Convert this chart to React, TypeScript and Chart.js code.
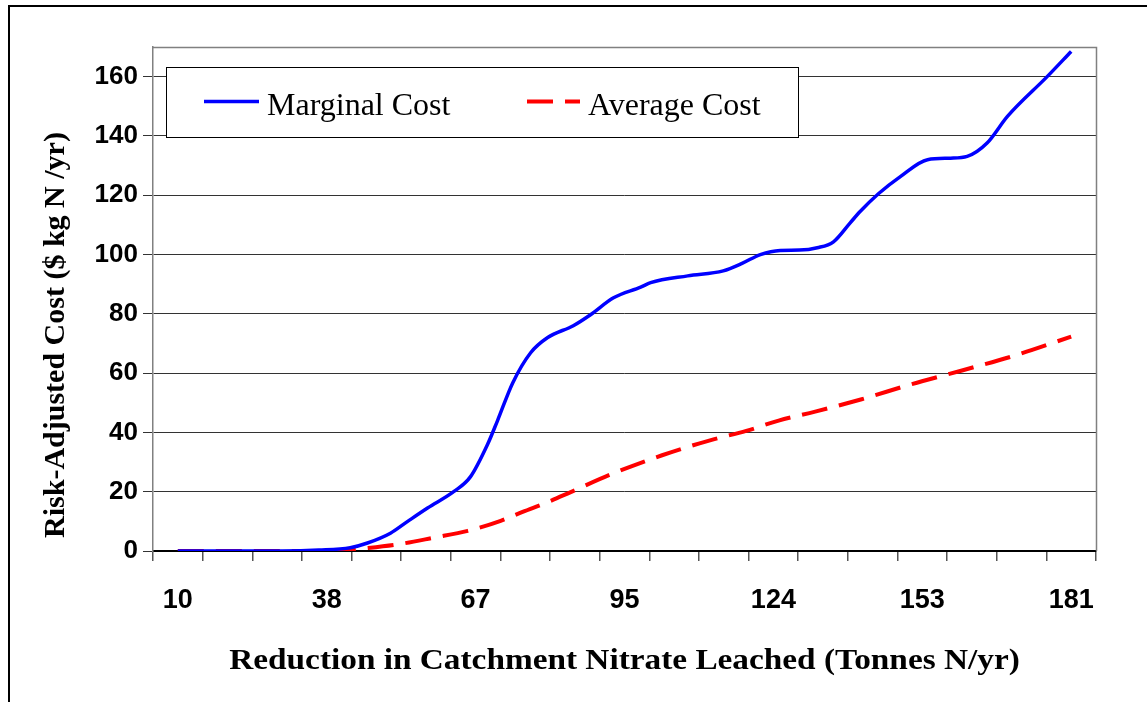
import React, { useEffect, useRef } from 'react';
import { Chart, registerables } from 'chart.js';

Chart.register(...registerables);

// ---- Data ----
const X_TICK_VALUES = [10, 19.5, 29, 38.5, 48, 57.5, 67, 76.5, 86, 95.5, 105, 114.5, 124, 133.5, 143, 152.5, 162, 171.5, 181];
const X_TICK_LABELS = ['10', '', '', '38', '', '', '67', '', '', '95', '', '', '124', '', '', '153', '', '', '181'];

const MARGINAL_X = [10, 20, 30, 37, 43, 46.3, 50.7, 54, 57.8, 62.8, 66, 69.3, 71.2, 74.1, 77.5, 80.8, 85.7, 89, 93.4, 98.6, 100.5, 107.6, 114.4, 118, 121.5, 125.3, 129, 132.4, 135.5, 138.7, 140.6, 144.1, 148.3, 153.5, 157.9, 161.1, 164.9, 168.8, 176.4, 181];
const MARGINAL_Y = [0, 0, 0, 0.3, 1.1, 2.7, 6, 10, 14.5, 20, 25, 36, 44, 56.7, 66.8, 72, 76, 79.7, 85.4, 89, 90.5, 92.8, 94.5, 97, 100, 101.4, 101.5, 102.3, 104.3, 110.7, 114.5, 120.5, 126.3, 132, 132.5, 133.1, 137.6, 146.6, 160, 168.5];

const AVERAGE_X = [10, 20, 30, 38, 42, 46.3, 52.7, 59, 65.5, 71.8, 76, 80.8, 85, 93.1, 102.7, 112.2, 118.8, 125, 132, 140.9, 150.5, 160.1, 169.6, 181];
const AVERAGE_Y = [0, 0, 0, 0, 0.3, 1, 2.4, 4.5, 6.8, 10.2, 13.2, 16.5, 19.7, 26, 32.3, 37.5, 40.5, 44, 47, 51.2, 56.3, 60.9, 65.6, 72.3];

const SERIES_LABELS = ['Marginal Cost', 'Average Cost'];
const X_TITLE = 'Reduction in Catchment Nitrate Leached (Tonnes N/yr)';
const Y_TITLE = 'Risk-Adjusted Cost ($ kg N /yr)';

const SANS = '"Liberation Sans", Arial, sans-serif';
const SERIF = '"Liberation Serif", "Times New Roman", serif';

const frameBorder = {
  id: 'frameBorder',
  beforeDatasetsDraw(chart: any) {
    const { ctx, chartArea } = chart;
    ctx.save();
    ctx.strokeStyle = '#808080';
    ctx.lineWidth = 1.5;
    ctx.beginPath();
    ctx.moveTo(chartArea.left, chartArea.top + 0.5);
    ctx.lineTo(chartArea.right + 0.5, chartArea.top + 0.5);
    ctx.lineTo(chartArea.right + 0.5, chartArea.bottom);
    ctx.stroke();
    ctx.restore();
  },
};

const axisTitles = {
  id: 'axisTitles',
  afterDraw(chart: any) {
    const { ctx, chartArea } = chart;
    ctx.save();
    ctx.fillStyle = '#000';
    ctx.font = `bold 30px ${SERIF}`;
    ctx.textAlign = 'center';
    ctx.textBaseline = 'middle';
    // x title (slightly widened like the reference)
    ctx.save();
    ctx.translate((chartArea.left + chartArea.right) / 2, chartArea.bottom + 110);
    ctx.scale(1.11, 1);
    ctx.fillText(X_TITLE, 0, 0);
    ctx.restore();
    // y title
    ctx.save();
    ctx.translate(56, chartArea.bottom - 216);
    ctx.rotate(-Math.PI / 2);
    ctx.fillText(Y_TITLE, 0, 0);
    ctx.restore();
    ctx.restore();
  },
};

const boxLegend = {
  id: 'boxLegend',
  afterDatasetsDraw(chart: any) {
    const { ctx, chartArea } = chart;
    const bx = chartArea.left + 13;
    const by = chartArea.top + 20;
    const bw = 632;
    const bh = 70;
    ctx.save();
    ctx.fillStyle = '#ffffff';
    ctx.fillRect(bx, by, bw, bh);
    ctx.strokeStyle = '#000000';
    ctx.lineWidth = 1;
    ctx.strokeRect(bx + 0.5, by + 0.5, bw, bh);
    const ds = chart.data.datasets;
    const cy = by + 34.5;
    const items = [
      { x0: bx + 38, x1: bx + 93, tx: bx + 101 },
      { x0: bx + 361, x1: bx + 414, tx: bx + 422 },
    ];
    ds.forEach((d: any, i: number) => {
      const it = items[i];
      ctx.beginPath();
      ctx.strokeStyle = d.borderColor;
      ctx.lineWidth = d.borderWidth;
      ctx.setLineDash(d.borderDash || []);
      ctx.moveTo(it.x0, cy);
      ctx.lineTo(it.x1, cy);
      ctx.stroke();
      ctx.setLineDash([]);
      ctx.fillStyle = '#000';
      ctx.font = `32px ${SERIF}`;
      ctx.textBaseline = 'alphabetic';
      ctx.textAlign = 'left';
      ctx.fillText(d.label, it.tx, by + 48);
    });
    ctx.restore();
  },
};

export default function App() {
  const canvasRef = useRef<HTMLCanvasElement | null>(null);

  useEffect(() => {
    if (!canvasRef.current) return;
    const chart = new Chart(canvasRef.current, {
      type: 'line',
      data: {
        datasets: [
          {
            label: SERIES_LABELS[0],
            data: MARGINAL_X.map((x, i) => ({ x, y: MARGINAL_Y[i] })),
            borderColor: '#0000ff',
            borderWidth: 3.5,
            pointRadius: 0,
            cubicInterpolationMode: 'monotone',
            fill: false,
          },
          {
            label: SERIES_LABELS[1],
            data: AVERAGE_X.map((x, i) => ({ x, y: AVERAGE_Y[i] })),
            borderColor: '#ff0000',
            borderWidth: 4,
            borderDash: [26, 12],
            pointRadius: 0,
            cubicInterpolationMode: 'monotone',
            fill: false,
          },
        ],
      },
      options: {
        animation: false,
        responsive: false,
        maintainAspectRatio: false,
        layout: { padding: { left: 0, right: 51, top: 47, bottom: 0 } },
        plugins: {
          legend: { display: false },
          tooltip: { enabled: false },
        },
        scales: {
          x: {
            type: 'linear',
            position: 'bottom',
            min: 5.25,
            max: 185.75,
            afterBuildTicks: (s: any) => {
              s.ticks = X_TICK_VALUES.map((v) => ({ value: v }));
            },
            afterFit: (s: any) => {
              s.height = 151;
            },
            grid: {
              offset: true,
              drawOnChartArea: false,
              drawTicks: true,
              tickLength: 10,
              color: '#555555',
              lineWidth: 1.5,
            },
            border: { display: true, color: '#000000', width: 2 },
            ticks: {
              autoSkip: false,
              maxRotation: 0,
              minRotation: 0,
              padding: 23,
              color: '#000000',
              font: { family: SANS, size: 27, weight: 'bold' },
              callback: (_v: any, i: number) => X_TICK_LABELS[i],
            },
            title: { display: false },
          },
          y: {
            type: 'linear',
            min: 0,
            max: 170,
            afterFit: (s: any) => {
              s.width = 153;
            },
            grid: {
              color: '#333333',
              lineWidth: 1,
              drawTicks: true,
              tickLength: 10,
            },
            border: { display: true, color: '#808080', width: 1.5 },
            ticks: {
              stepSize: 20,
              includeBounds: false,
              padding: 5,
              color: '#000000',
              font: { family: SANS, size: 26, weight: 'bold' },
            },
            title: { display: false },
          },
        },
      },
      plugins: [frameBorder, boxLegend, axisTitles],
    } as any);
    return () => chart.destroy();
  }, []);

  return (
    <div
      style={{
        position: 'fixed',
        left: 0,
        top: 0,
        width: 1147,
        height: 702,
        overflow: 'hidden',
        background: '#ffffff',
      }}
    >
      <div
        style={{
          position: 'absolute',
          left: 8,
          top: 5,
          width: 1200,
          height: 800,
          border: '2px solid #000',
          boxSizing: 'border-box',
        }}
      />
      <canvas
        ref={canvasRef}
        width={1147}
        height={702}
        style={{ position: 'absolute', left: 0, top: 0, display: 'block' }}
      />
    </div>
  );
}
